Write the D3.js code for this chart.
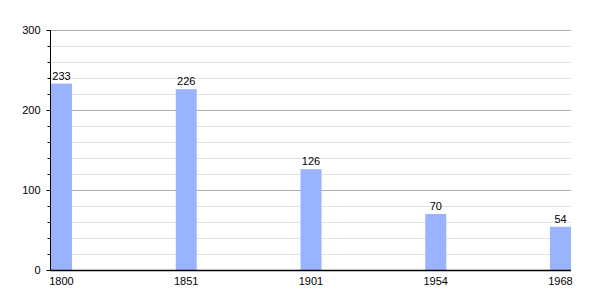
<!doctype html>
<html>
<head>
<script src="https://d3js.org/d3.v7.min.js"></script>
<style>
  body { margin: 0; background: #fff; }
  text { font-family: "Liberation Sans", Arial, sans-serif; font-size: 11px; fill: #000; }
</style>
</head>
<body>
<svg width="600" height="300"></svg>
<script>
    var years = ["1800", "1851", "1901", "1954", "1968"];
    var population = [233, 226, 126, 70, 54];
    var majorTicks = [0, 100, 200, 300];
    var minorTicks = d3.range(20, 300, 20).filter(function(d) { return d % 100 !== 0; });

    var svg = d3.select("svg"),
        plotLeft = 50,
        plotRight = 571,
        plotTop = 30,
        plotBottom = 270,
        barWidth = 21;

    var data = years.map(function(y, i) { return { year: y, value: population[i] }; });

    var xScale = d3.scalePoint().domain(years).range([plotLeft + 1, plotRight - barWidth]),
        yScale = d3.scaleLinear().domain([0, 300]).range([plotBottom, plotTop]);

    // minor grid
    svg.append("g").selectAll("line")
       .data(minorTicks)
       .enter().append("line")
       .attr("x1", plotLeft).attr("x2", plotRight)
       .attr("y1", function(d) { return yScale(d) + 0.5; })
       .attr("y2", function(d) { return yScale(d) + 0.5; })
       .attr("stroke", "#e2e2e2");

    // major grid
    svg.append("g").selectAll("line")
       .data(majorTicks.slice(1))
       .enter().append("line")
       .attr("x1", plotLeft).attr("x2", plotRight)
       .attr("y1", function(d) { return yScale(d) + 0.5; })
       .attr("y2", function(d) { return yScale(d) + 0.5; })
       .attr("stroke", "#b0b0b0");

    svg.selectAll(".bar")
       .data(data)
       .enter().append("rect")
       .attr("class", "bar")
       .attr("x", function(d) { return xScale(d.year); })
       .attr("y", function(d) { return yScale(d.value); })
       .attr("width", barWidth)
       .attr("height", function(d) { return plotBottom - yScale(d.value); })
       .attr("fill", "#99b3ff");

    svg.selectAll(".val")
       .data(data)
       .enter().append("text")
       .attr("class", "val")
       .attr("x", function(d) { return xScale(d.year) + barWidth / 2; })
       .attr("y", function(d) { return yScale(d.value) - 4; })
       .attr("text-anchor", "middle")
       .text(function(d) { return d.value; });

    // y axis
    var yAxis = svg.append("g")
       .attr("transform", "translate(" + (plotLeft + 0.5) + ",0)")
       .call(d3.axisLeft(yScale).tickValues(majorTicks).tickSize(4).tickPadding(6));
    yAxis.select(".domain").remove();
    yAxis.selectAll("line").attr("stroke", "#000");
    yAxis.selectAll("text").attr("font-family", null).attr("font-size", null);

    svg.append("g")
       .attr("transform", "translate(" + (plotLeft + 0.5) + ",0)")
       .call(d3.axisLeft(yScale).tickValues(minorTicks).tickSize(3).tickFormat(""))
       .call(function(g) { g.select(".domain").remove(); g.selectAll("line").attr("stroke", "#000"); });

    svg.append("line")
       .attr("x1", plotLeft + 0.5).attr("x2", plotLeft + 0.5)
       .attr("y1", plotTop).attr("y2", plotBottom + 1)
       .attr("stroke", "#000");

    // x axis
    svg.append("line")
       .attr("x1", plotLeft).attr("x2", plotRight)
       .attr("y1", plotBottom + 0.5).attr("y2", plotBottom + 0.5)
       .attr("stroke", "#000").attr("stroke-width", 1.5);

    svg.selectAll(".xl")
       .data(data)
       .enter().append("text")
       .attr("class", "xl")
       .attr("x", function(d) { return xScale(d.year) + barWidth / 2; })
       .attr("y", plotBottom + 15)
       .attr("text-anchor", "middle")
       .text(function(d) { return d.year; });
</script>
</body>
</html>
